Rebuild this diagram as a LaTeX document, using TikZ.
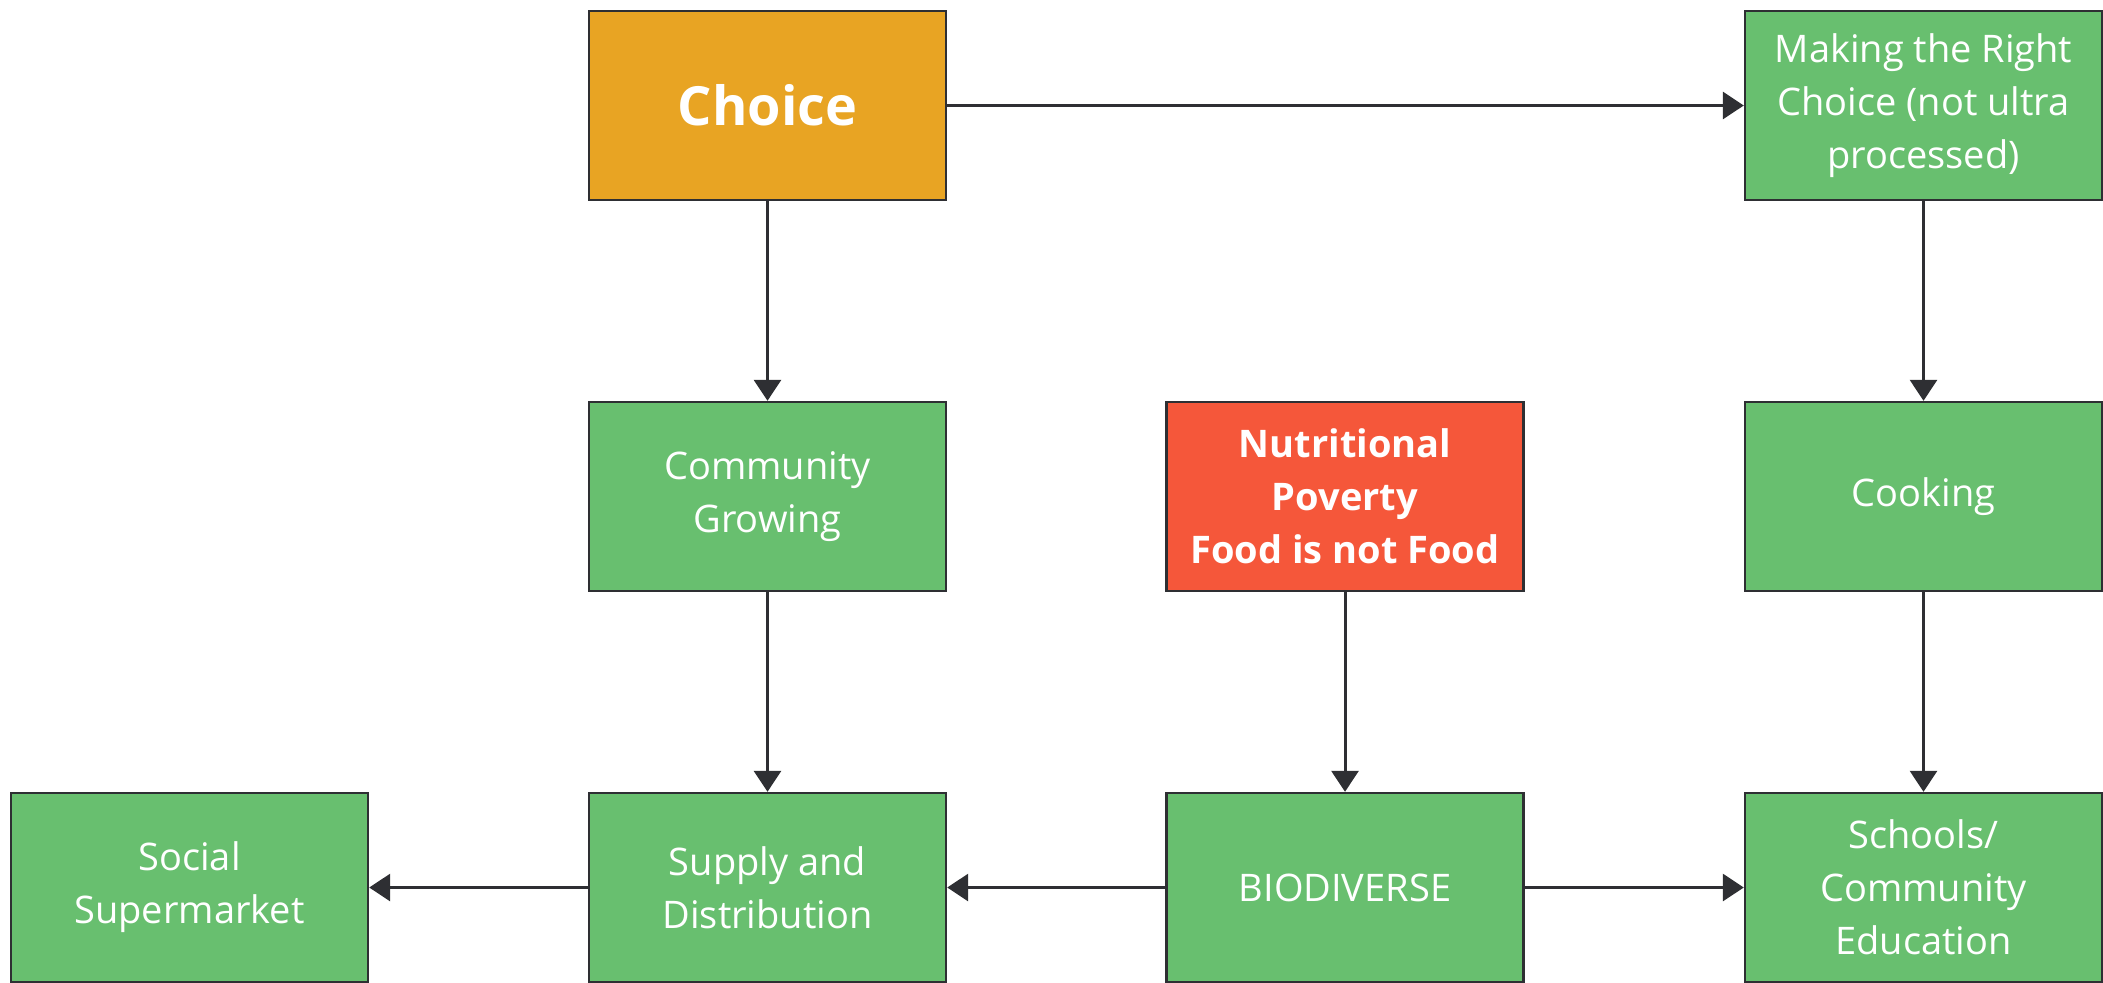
\documentclass[tikz,border=0pt]{standalone}
\usepackage{fontspec}
\setmainfont{Open Sans}
\usetikzlibrary{arrows.meta}
\definecolor{choiceorange}{HTML}{E8A423}
\definecolor{boxgreen}{HTML}{68BF6F}
\definecolor{povertyred}{HTML}{F5573A}
\definecolor{edgegray}{HTML}{2E2F33}

\begin{document}
\begin{tikzpicture}[x=0.5pt, y=-0.5pt,
    box/.style={draw=edgegray, line width=1.2pt, minimum width=178.5pt,
      minimum height=94.5pt, inner sep=0pt, align=center, text=white,
      font=\fontsize{19}{26.5}\selectfont},
    greenbox/.style={box, fill=boxgreen},
    link/.style={-{Triangle[width=13.5pt,length=10.5pt]}, line width=1.5pt, draw=edgegray}]
            \useasboundingbox (0,0) rectangle (2103,982);

            \node[box, fill=choiceorange, font=\bfseries\fontsize{27}{34}\selectfont] (choice) at (767.5,105.5) {Choice};
            \node[greenbox] (right) at (1923.5,105.5) {Making the Right\\Choice (not ultra\\processed)};
            \node[greenbox] (growing) at (767.5,496.5) {Community\\Growing};
            \node[box, fill=povertyred, font=\bfseries\fontsize{19}{26.5}\selectfont] (poverty) at (1345,496.5) {Nutritional\\Poverty\\Food is not Food};
            \node[greenbox] (cooking) at (1923.5,496.5) {Cooking};
            \node[greenbox] (social) at (189.5,887.5) {Social\\Supermarket};
            \node[greenbox] (supply) at (767.5,887.5) {Supply and\\Distribution};
            \node[greenbox] (bio) at (1345,887.5) {BIODIVERSE};
            \node[greenbox] (schools) at (1923.5,887.5) {Schools/\\Community\\Education};

            \draw[link] (choice) -- (right);
            \draw[link] (choice) -- (growing);
            \draw[link] (growing) -- (supply);
            \draw[link] (right) -- (cooking);
            \draw[link] (cooking) -- (schools);
            \draw[link] (poverty) -- (bio);
            \draw[link] (bio) -- (supply);
            \draw[link] (bio) -- (schools);
            \draw[link] (supply) -- (social);
        \end{tikzpicture}
\end{document}
